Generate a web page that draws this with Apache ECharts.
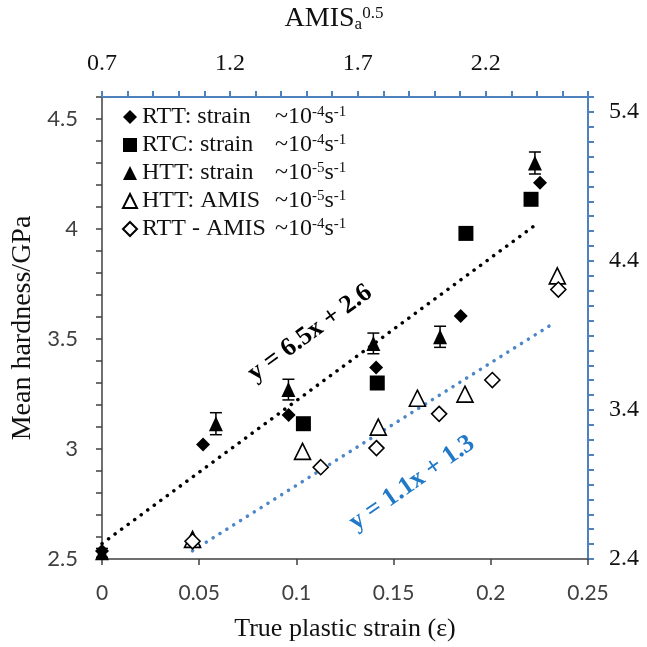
<!DOCTYPE html>
<html>
<head>
<meta charset="utf-8">
<script src="https://cdn.jsdelivr.net/npm/echarts@6/dist/echarts.min.js"></script>
<style>
html,body{margin:0;padding:0;background:#fff;}
#c{width:647px;height:647px;}
</style>
</head>
<body>
<div id="c"></div>
<script>
// ---- data ----
const seriesNames = ['RTT: strain', 'RTC: strain', 'HTT: strain', 'HTT: AMIS', 'RTT - AMIS'];
const rateExp = ['-4', '-4', '-5', '-5', '-4'];
// primary axes: x = true plastic strain, y = mean hardness (GPa)
const rttStrain = [[0, 2.536], [0.052, 3.02], [0.096, 3.155], [0.141, 3.37], [0.1845, 3.605], [0.2253, 4.21]];
const rtcStrain = [[0.1036, 3.115], [0.1416, 3.30], [0.1872, 3.98], [0.2207, 4.135]];
const httStrain = [[0, 2.528], [0.0586, 3.115], [0.0959, 3.27], [0.1396, 3.48], [0.1739, 3.51], [0.2227, 4.30]];
const httStrainErr = [0.02, 0.05, 0.047, 0.047, 0.048, 0.05];
// secondary axes: x = AMIS_a^0.5, y = right axis
const httAmis = [[1.054, 2.532], [1.484, 3.122], [1.78, 3.285], [1.933, 3.479], [2.119, 3.506], [2.48, 4.30]];
const rttAmis = [[1.054, 2.519], [1.555, 3.016], [1.773, 3.144], [2.018, 3.374], [2.226, 3.601], [2.484, 4.208]];
// trendline end points as drawn
const trendStrain = [[0, 2.57], [0.224, 4.025]];
const trendAmis = [[1.054, 2.455], [2.473, 3.99]];
const eqStrain = 'y = 6.5x + 2.6';
const eqAmis = 'y = 1.1x + 1.3';
// tick label values
const xBottomTicks = [0, 0.05, 0.1, 0.15, 0.2, 0.25];
const yLeftLabels = [2.5, 3, 3.5, 4, 4.5];
const yRightLabels = [2.4, 3.4, 4.4, 5.4];
const xTopLabels = [0.7, 1.2, 1.7, 2.2];

const SERIF = '"Liberation Serif", "Times New Roman", serif';
const SANS = 'Lato, "Liberation Sans", sans-serif';
const BLUE_AX = '#4f81bd';
const near = (v, arr) => arr.some(a => Math.abs(a - v) < 1e-6);

const errData = httStrain.map((p, i) => [p[0], p[1], httStrainErr[i]]);

const chart = echarts.init(document.getElementById('c'), null, {renderer: 'canvas'});

const supStyle = {fontFamily: SERIF, fontSize: 15, lineHeight: 15, verticalAlign: 'top', color: '#111'};

chart.setOption({
  animation: false,
  backgroundColor: '#fff',
  grid: {left: 102, right: 59, top: 95, bottom: 84, containLabel: false},
  legend: {
    orient: 'vertical', left: 122, top: 105, padding: 0, itemGap: 4,
    itemWidth: 14, itemHeight: 14,
    data: seriesNames,
    selectedMode: false,
    textStyle: {fontFamily: SERIF, fontSize: 24, color: '#111', lineHeight: 24,
      rich: {
        n: {fontFamily: SERIF, fontSize: 24, lineHeight: 24, width: 133, color: '#111'},
        t: {fontFamily: SERIF, fontSize: 24, lineHeight: 24, color: '#111'},
        s: supStyle
      }},
    formatter: name => {
      const i = seriesNames.indexOf(name);
      return '{n|' + name + '}{t|~10}{s|' + rateExp[i] + '}{t|s}{s|-1}';
    }
  },
  xAxis: [
    {
      type: 'value', position: 'bottom', min: 0, max: 0.25, interval: 0.05,
      name: 'True plastic strain (ε)', nameLocation: 'middle', nameGap: 57,
      nameTextStyle: {fontFamily: SERIF, fontSize: 26, color: '#111'},
      axisLine: {lineStyle: {color: '#404040', width: 1.5}},
      axisTick: {show: true, length: 6, lineStyle: {color: '#404040', width: 1.5}},
      axisLabel: {fontFamily: SANS, fontSize: 21, color: '#404040', margin: 24,
        formatter: v => near(v, xBottomTicks) ? String(+v.toFixed(2)) : ''},
      splitLine: {show: false}
    },
    {
      type: 'value', position: 'top', min: 0.7, max: 2.6, interval: 0.1,
      name: 'AMIS{sub|a}{sup|0.5}', nameLocation: 'middle', nameGap: 64,
      nameTextStyle: {fontFamily: SERIF, fontSize: 28, color: '#111', padding: [0, 22, 0, 0],
        rich: {
          sub: {fontFamily: SERIF, fontSize: 17, lineHeight: 17, verticalAlign: 'bottom', color: '#111'},
          sup: {fontFamily: SERIF, fontSize: 17, lineHeight: 17, verticalAlign: 'top', color: '#111'}
        }},
      axisLine: {lineStyle: {color: BLUE_AX, width: 2}},
      axisTick: {show: true, length: 6, lineStyle: {color: BLUE_AX, width: 2}},
      axisLabel: {fontFamily: SERIF, fontSize: 24, color: '#111', margin: 21,
        formatter: v => near(v, xTopLabels) ? v.toFixed(1) : ''},
      splitLine: {show: false}
    }
  ],
  yAxis: [
    {
      type: 'value', position: 'left', min: 2.5, max: 4.6, interval: 0.1,
      name: 'Mean hardness/GPa', nameLocation: 'middle', nameGap: 65,
      nameTextStyle: {fontFamily: SERIF, fontSize: 28, color: '#111'},
      axisLine: {show: true, lineStyle: {color: '#404040', width: 1.5}},
      axisTick: {show: true, length: 6, lineStyle: {color: '#404040', width: 1.5}},
      axisLabel: {fontFamily: SANS, fontSize: 22, color: '#404040', margin: 24,
        formatter: v => near(v, yLeftLabels) ? String(+v.toFixed(1)) : ''},
      splitLine: {show: false}
    },
    {
      type: 'value', position: 'right', min: 2.4, max: 5.5, interval: 0.1,
      axisLine: {show: true, lineStyle: {color: BLUE_AX, width: 2}},
      axisTick: {show: true, length: 6, lineStyle: {color: BLUE_AX, width: 2}},
      axisLabel: {fontFamily: SERIF, fontSize: 24, color: '#111', margin: 21,
        formatter: v => near(v, yRightLabels) ? v.toFixed(1) : ''},
      splitLine: {show: false}
    }
  ],
  series: [
    {
      type: 'line', data: trendStrain, xAxisIndex: 0, yAxisIndex: 0, symbol: 'none', silent: true,
      lineStyle: {color: '#000', width: 3.5, type: [0.1, 8], cap: 'round'}, z: 1
    },
    {
      type: 'line', data: trendAmis, xAxisIndex: 1, yAxisIndex: 1, symbol: 'none', silent: true,
      lineStyle: {color: '#4a86c8', width: 3.5, type: [0.1, 8], cap: 'round'}, z: 1
    },
    {
      type: 'custom', xAxisIndex: 0, yAxisIndex: 0, data: errData, z: 2, silent: true,
      renderItem: (params, api) => {
        const x = api.value(0), y = api.value(1), e = api.value(2);
        const t = api.coord([x, y + e]);
        const b = api.coord([x, y - e]);
        const h = 6;
        const st = {stroke: '#000', lineWidth: 1.5};
        return {type: 'group', children: [
          {type: 'line', shape: {x1: t[0], y1: t[1], x2: b[0], y2: b[1]}, style: st},
          {type: 'line', shape: {x1: t[0] - h, y1: t[1], x2: t[0] + h, y2: t[1]}, style: st},
          {type: 'line', shape: {x1: b[0] - h, y1: b[1], x2: b[0] + h, y2: b[1]}, style: st}
        ]};
      }
    },
    {
      name: seriesNames[0], type: 'scatter', data: rttStrain, xAxisIndex: 0, yAxisIndex: 0,
      symbol: 'diamond', symbolSize: 14, itemStyle: {color: '#000', opacity: 1}, z: 3
    },
    {
      name: seriesNames[1], type: 'scatter', data: rtcStrain, xAxisIndex: 0, yAxisIndex: 0,
      symbol: 'rect', symbolSize: 15, itemStyle: {color: '#000', opacity: 1}, z: 3
    },
    {
      name: seriesNames[2], type: 'scatter', data: httStrain, xAxisIndex: 0, yAxisIndex: 0,
      symbol: 'triangle', symbolSize: [14, 15], itemStyle: {color: '#000', opacity: 1}, z: 3
    },
    {
      name: seriesNames[3], type: 'scatter', data: httAmis, xAxisIndex: 1, yAxisIndex: 1,
      symbol: 'triangle', symbolSize: [16, 16], itemStyle: {color: '#fff', borderColor: '#000', borderWidth: 1.6, opacity: 1}, z: 3
    },
    {
      name: seriesNames[4], type: 'scatter', data: rttAmis, xAxisIndex: 1, yAxisIndex: 1,
      symbol: 'diamond', symbolSize: 15, itemStyle: {color: '#fff', borderColor: '#000', borderWidth: 1.6, opacity: 1}, z: 3
    }
  ],
  graphic: [
    {type: 'text', x: 310, y: 333, rotation: 36 * Math.PI / 180, z: 10,
      style: {text: eqStrain, fontFamily: SERIF, fontSize: 26, fontWeight: 'bold', fill: '#000', align: 'center', verticalAlign: 'middle'}},
    {type: 'text', x: 412, y: 483, rotation: 35 * Math.PI / 180, z: 10,
      style: {text: eqAmis, fontFamily: SERIF, fontSize: 26, fontWeight: 'bold', fill: '#1f78c8', align: 'center', verticalAlign: 'middle'}}
  ]
});
</script>
</body>
</html>
